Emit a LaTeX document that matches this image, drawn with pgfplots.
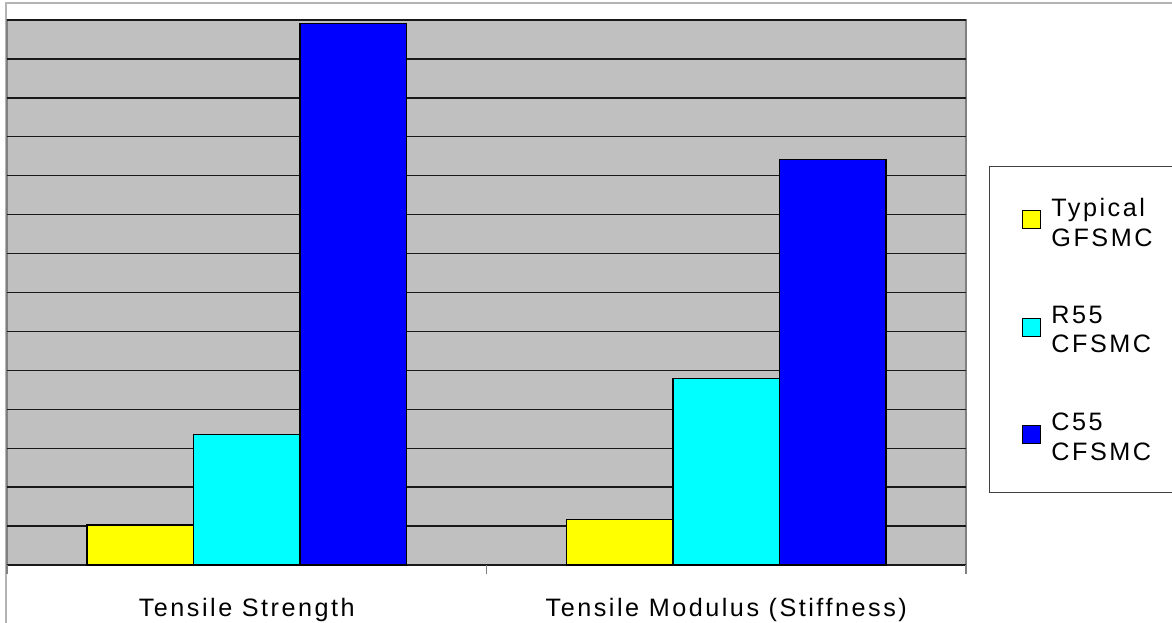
\documentclass[border=0pt]{standalone}
\usepackage{pgfplots}
\pgfplotsset{compat=1.18}
\usepackage{fontspec}
\setmainfont[LetterSpace=10]{Liberation Sans}
\definecolor{plotbg}{HTML}{C0C0C0}
\definecolor{frame}{HTML}{B4B4B4}
\definecolor{cyanbar}{HTML}{00FFFF}
\definecolor{yellowbar}{HTML}{FFFF00}
\definecolor{bluebar}{HTML}{0000FF}
\begin{document}
\begin{tikzpicture}
\path[use as bounding box] (0,0) rectangle (586pt,311pt);
\draw[frame, line width=0.75pt] (3pt,-2pt) -- (3pt,309.5pt) -- (590pt,309.5pt);
\draw[black!75, line width=0.5pt, fill=white] (494.5pt,65pt) rectangle (587pt,227.5pt);
\begin{axis}[
  at={(3.5pt,28.5pt)}, anchor=south west,
  scale only axis, width=479.5pt, height=272.5pt,
  ybar=0pt, bar width=53.25pt,
  xmin=-0.5, xmax=1.5, ymin=0, ymax=14,
  xtick={0,1},
  xticklabels={Tensile Strength, Tensile Modulus (Stiffness)},
  major tick length=0pt,
  extra x ticks={-0.5,0.5,1.5},
  extra x tick labels={},
  extra x tick style={xtick style={draw=gray, line width=0.9pt}, major tick length=4.5pt, tick align=outside},
  xtick pos=left,
  ytick={0,1,...,14}, yticklabels={}, ytick style={draw=none},
  ymajorgrids, grid style={black!90, line width=0.7pt},
  axis background/.style={fill=plotbg, draw=gray, line width=0.9pt},
  axis line style={draw=none},
  xticklabel style={font=\fontsize{12.6}{15}\selectfont, anchor=base, yshift=-25.8pt},
  legend image code/.code={\draw[#1, draw=black, line width=0.5pt] (0pt,-2.5pt) rectangle (9pt,6.5pt);},
  legend style={at={(1.0584,0.6734)}, anchor=north west, draw=none, fill=none,
    inner sep=0pt, column sep=5pt, row sep=28.5pt,
    font=\fontsize{12.6}{14.75}\selectfont,
    nodes={inner sep=0pt, align=left}},
  legend cell align=left,
]
\addplot[fill=yellowbar, draw=black, line width=0.6pt] coordinates {(0,1.03) (1,1.17)};
\addplot[fill=cyanbar, draw=black, line width=0.6pt] coordinates {(0,3.35) (1,4.79)};
\addplot[fill=bluebar, draw=black, line width=0.6pt] coordinates {(0,13.9) (1,10.41)};
\legend{Typical\\GFSMC, R55\\CFSMC, C55\\CFSMC}
\end{axis}
\end{tikzpicture}
\end{document}
